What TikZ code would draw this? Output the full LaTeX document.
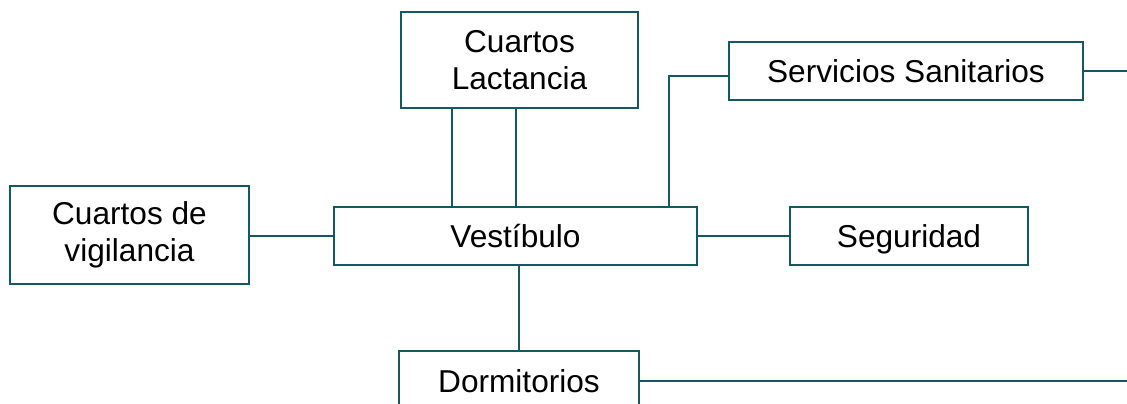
\documentclass[tikz,border=0pt]{standalone}
\usepackage{fontspec}
\setmainfont{Liberation Sans}
\usepackage{xcolor}
\usepackage{tikz}
\usetikzlibrary{positioning,calc}

\definecolor{tealline}{RGB}{20,88,98}

\begin{document}
\begin{tikzpicture}[x=0.02cm,y=-0.02cm,
    room/.style={draw=tealline, line width=1pt, fill=white, align=center,
      inner sep=0pt, font=\fontsize{18}{21}\selectfont},
    link/.style={draw=tealline, line width=1pt}]
  \useasboundingbox (0,0) rectangle (1127,404);
  \clip (0,0) rectangle (1127,404);
  % rooms
  \node[room, minimum width=4.74cm, minimum height=1.92cm] (lact) at (519.5,60) {Cuartos\\Lactancia};
  \node[room, minimum width=7.08cm, minimum height=1.16cm] (sanit) at (906,71) {Servicios Sanitarios};
  \node[room, minimum width=4.78cm, minimum height=1.96cm] (vigil) at (129.5,235) {Cuartos de\\vigilancia};
  \node[room, minimum width=7.26cm, minimum height=1.16cm] (vest) at (515.5,236) {Vestíbulo};
  \node[room, minimum width=4.76cm, minimum height=1.16cm, text height=13pt, text depth=0pt] (segur) at (909,236) {Seguridad};
  \node[room, minimum width=4.8cm, minimum height=1.2cm] (dorm) at (519,381) {Dormitorios};
  % free ends at the right edge
  \coordinate (outA) at (1127,71);
  \coordinate (outB) at (1127,381);
  % connectors
  \draw[link] (vigil.east |- vest.west) -- (vest.west);
  \draw[link] (vest.east) -- (segur.west);
  \draw[link] (lact.south -| 452,0) -- (vest.north -| 452,0);
  \draw[link] (lact.south -| 516,0) -- (vest.north -| 516,0);
  \draw[link] (sanit.west |- 0,76) -- (669,76) -- (vest.north -| 669,0);
  \draw[link] (sanit.east) -- (outA);
  \draw[link] (vest.south -| dorm.north) -- (dorm.north);
  \draw[link] (dorm.east) -- (outB);
\end{tikzpicture}
\end{document}
